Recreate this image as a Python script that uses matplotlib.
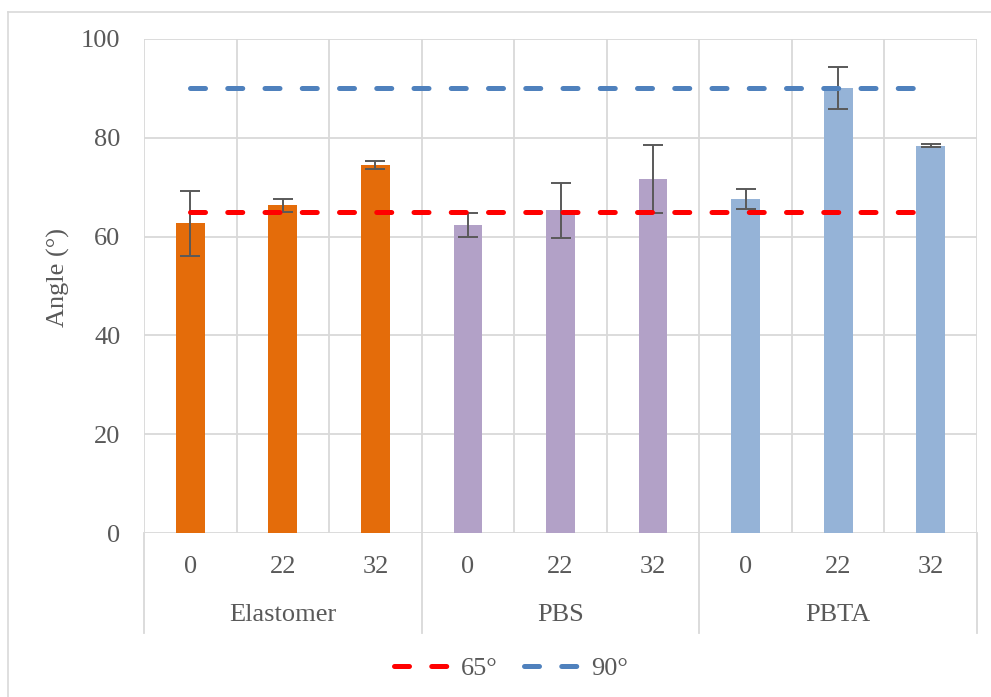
import matplotlib
matplotlib.use("Agg")
import matplotlib.pyplot as plt
from matplotlib.lines import Line2D
from matplotlib.transforms import blended_transform_factory
import numpy as np

# ---- data ----
groups = ["Elastomer", "PBS", "PBTA"]
levels = ["0", "22", "32"]
angle_means = [62.7, 66.3, 74.5, 62.3, 65.3, 71.6, 67.6, 90.1, 78.4]
angle_errs = [6.6, 1.4, 0.9, 2.4, 5.5, 6.9, 2.0, 4.3, 0.3]
group_colors = ["#E46C0A", "#B2A1C7", "#95B3D7"]
threshold_values = [65, 90]
threshold_labels = ["65°", "90°"]
threshold_colors = ["#FF0000", "#4F81BD"]
y_ticks = [0, 20, 40, 60, 80, 100]

plt.rcParams["font.family"] = ["Liberation Serif", "DejaVu Serif"]
txt_color = "#595959"
grid_color = "#D9D9D9"
fs = 19

W, H = 991, 697
fig = plt.figure(figsize=(W / 100, H / 100), dpi=100)

# outer chart border (left and top edges)
fig.add_artist(Line2D([8 / W, 8 / W], [0, 1 - 12 / H], color=grid_color, lw=1.2,
                      transform=fig.transFigure))
fig.add_artist(Line2D([8 / W, 1], [1 - 12 / H, 1 - 12 / H], color=grid_color, lw=1.2,
                      transform=fig.transFigure))

left, right, top, bottom = 144, 977, 39, 533
ax = fig.add_axes([left / W, 1 - bottom / H, (right - left) / W, (bottom - top) / H])

n = len(angle_means)
x = np.arange(n)
bar_colors = [c for c in group_colors for _ in levels]

ax.bar(x, angle_means, width=0.31, color=bar_colors, zorder=2)
ax.errorbar(x, angle_means, yerr=angle_errs, fmt="none", ecolor="#595959",
            elinewidth=1.4, capsize=7, capthick=1.4, zorder=3)

handles = []
for val, lab, col in zip(threshold_values, threshold_labels, threshold_colors):
    ln, = ax.plot([x[0], x[-1]], [val, val], color=col, lw=3.6,
                  solid_capstyle="round", dash_capstyle="round", zorder=4, label=lab)
    ln.set_dashes((3.0, 4.45))
    handles.append(ln)

ax.set_xlim(-0.5, n - 0.5)
ax.set_ylim(0, 100)
for s in ax.spines.values():
    s.set_visible(False)

# grid
for yv in y_ticks:
    ax.axhline(yv, color=grid_color, lw=1.3, zorder=1)
for xv in np.arange(-0.5, n, 1.0):
    ax.axvline(xv, color=grid_color, lw=1.3, zorder=1)

ax.set_yticks(y_ticks)
ax.set_yticklabels([str(v) for v in y_ticks], fontsize=fs, color=txt_color)
ax.tick_params(axis="y", length=0, pad=17)
ax.set_xticks([])
ax.set_ylabel("Angle (°)", fontsize=fs, color=txt_color)
axh = bottom - top
ax.yaxis.set_label_coords(-(left - 70) / (right - left), (bottom - 278) / axh)

# two-level category axis
trans = blended_transform_factory(ax.transData, ax.transAxes)
for i in range(n):
    ax.text(x[i], -(567 - bottom) / axh, levels[i % len(levels)], transform=trans,
            ha="center", va="center", fontsize=fs, color=txt_color)
for g, name in enumerate(groups):
    cx = g * len(levels) + (len(levels) - 1) / 2
    ax.text(cx, -(615 - bottom) / axh, name, transform=trans,
            ha="center", va="center", fontsize=fs, color=txt_color)
for b in np.arange(-0.5, n, len(levels)):
    ax.add_line(Line2D([b, b], [0, -(633 - bottom) / axh], transform=trans,
                       color=grid_color, lw=1.3, clip_on=False))

fig.legend(handles=handles, loc="center", bbox_to_anchor=(511 / W, 1 - 668 / H),
           ncol=2, frameon=False, fontsize=fs, labelcolor=txt_color,
           handlelength=2.1, handletextpad=0.45, columnspacing=1.0)

fig.savefig("out.png", dpi=100, facecolor="white")
